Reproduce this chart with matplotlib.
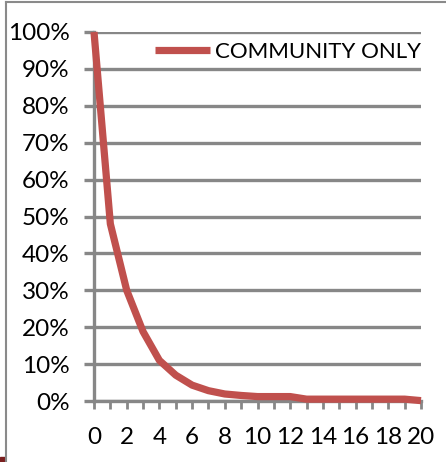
import matplotlib
matplotlib.use("Agg")
import matplotlib.pyplot as plt
from matplotlib.lines import Line2D
from matplotlib.patches import Rectangle
from matplotlib.ticker import PercentFormatter

plt.rcParams['font.family'] = ['Lato', 'DejaVu Sans']

# share of cases still open after n steps
steps = list(range(21))
community_only = [100, 48, 30, 18.8, 11, 7, 4.3, 2.8, 1.9, 1.5, 1.2,
                  1.2, 1.2, 0.5, 0.5, 0.5, 0.5, 0.5, 0.5, 0.5, 0.1]
series_name = "COMMUNITY ONLY"
y_ticks = list(range(0, 101, 10))
x_ticks = list(range(0, 21, 2))

W, H = 446, 462
fig = plt.figure(figsize=(W / 100, H / 100), dpi=100)
ax = fig.add_axes([94 / W, 1 - 401 / H, (421 - 94) / W, (401 - 32) / H])

grid_col = "#878787"
red = "#C0504D"

ax.plot(steps, community_only, color=red, lw=5.2, solid_capstyle="butt",
        solid_joinstyle="round", clip_on=False, zorder=5, label=series_name)

ax.set_xlim(0, 20)
ax.set_ylim(0, 100)
ax.set_yticks(y_ticks)
ax.yaxis.set_major_formatter(PercentFormatter(decimals=0))
ax.set_xticks(range(21))
ax.set_xticklabels([str(s) if s in x_ticks else "" for s in steps])

ax.yaxis.grid(True, color=grid_col, lw=2.4)
ax.set_axisbelow(True)
for side in ("top", "right"):
    ax.spines[side].set_visible(False)
for side in ("left", "bottom"):
    ax.spines[side].set_color(grid_col)
    ax.spines[side].set_linewidth(2.4)

ax.tick_params(axis="y", length=7.5, width=2.4, color=grid_col, pad=10,
               labelsize=17.5)
ax.tick_params(axis="x", length=6, width=2, color=grid_col, pad=12.5,
               labelsize=17.5)

ax.legend(loc="center right", bbox_to_anchor=(1.0, 0.946), frameon=False,
          fontsize=16, handlelength=2.5, handletextpad=0.22, borderpad=0,
          borderaxespad=0)

# outer chart frame
fig.add_artist(Line2D([6 / W, 6 / W], [0, 1 - 2 / H], color="#8a8a8a", lw=1.5))
fig.add_artist(Line2D([6 / W, 1], [1 - 2 / H, 1 - 2 / H], color="#8a8a8a", lw=1.5))
fig.add_artist(Rectangle((0, 0), 5 / W, 5 / H, color="#7a1f1f"))

fig.savefig("out.png", dpi=100)
